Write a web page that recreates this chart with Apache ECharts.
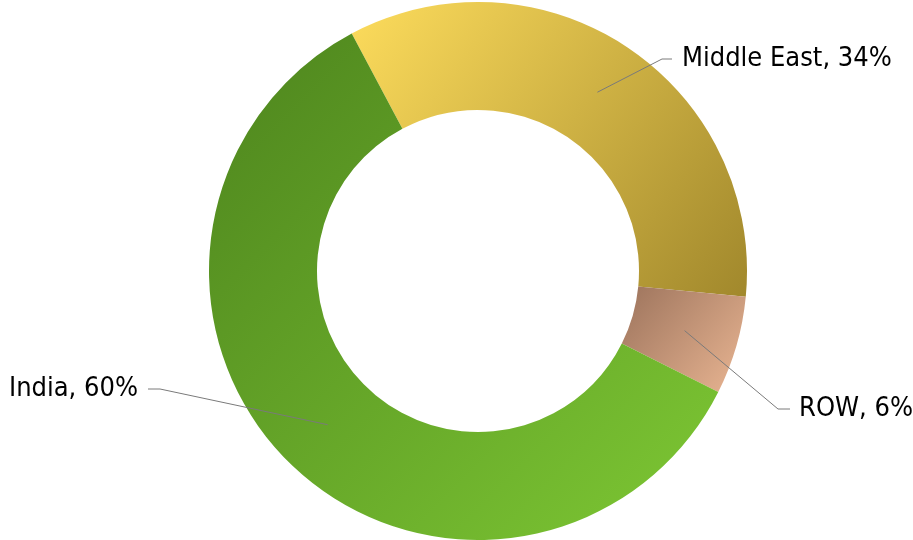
<!DOCTYPE html>
<html>
<head>
<meta charset="utf-8">
<script src="https://cdn.jsdelivr.net/npm/echarts@6/dist/echarts.min.js"></script>
<style>html,body{margin:0;padding:0;background:#fff;}#chart{width:913px;height:540px;}</style>
</head>
<body>
<div id="chart"></div>
<script>
const categories = ['Middle East', 'ROW', 'India'];
const values = [34.3, 5.9, 59.8];

// styles / layout
const gradients = [
  ['#fddc5c', '#a1882c'],
  ['#9c735c', '#eab693'],
  ['#4d841d', '#7ec834']
];
// label anchor: [textX, textY, align, elbowX, lineEndX]
const labelAnchors = [
  [682, 59, 'left', 662, 672],
  [799, 409, 'left', 778, 790],
  [138, 389, 'right', 160, 148]
];

const chart = echarts.init(document.getElementById('chart'), null, {renderer: 'canvas'});
const center = [478, 271];

const ringData = categories.map((c, i) => ({
  name: c, value: values[i],
  itemStyle: {
    color: new echarts.graphic.LinearGradient(0, 0, 1, 1, [
      {offset: 0, color: gradients[i][0]},
      {offset: 1, color: gradients[i][1]}
    ])
  }
}));
const labelData = categories.map((c, i) => ({name: c, value: values[i]}));

chart.setOption({
  animation: false,
  series: [
    {
      type: 'pie',
      center: center,
      radius: [161, 269],
      startAngle: 118,
      clockwise: true,
      silent: true,
      label: {show: false},
      labelLine: {show: false},
      itemStyle: {borderWidth: 0},
      data: ringData,
      z: 1
    },
    {
      type: 'pie',
      center: center,
      radius: [0, 215],
      startAngle: 118,
      clockwise: true,
      silent: true,
      z: 5,
      itemStyle: {color: 'rgba(0,0,0,0)'},
      label: {
        show: true,
        position: 'outside',
        formatter: p => p.name + ', ' + Math.round(p.value) + '%',
        fontFamily: 'DejaVu Sans Condensed',
        fontSize: 27,
        color: '#000'
      },
      labelLine: {
        show: true,
        length: 20,
        length2: 10,
        lineStyle: {color: '#7a7a7a', width: 1}
      },
      labelLayout: function (params) {
        const a = labelAnchors[params.dataIndex];
        const pts = params.labelLinePoints;
        const start = pts ? pts[0] : [0, 0];
        return {
          x: a[0],
          y: a[1],
          align: a[2],
          verticalAlign: 'middle',
          labelLinePoints: [start, [a[3], a[1]], [a[4], a[1]]]
        };
      },
      data: labelData
    }
  ]
});
</script>
</body>
</html>
